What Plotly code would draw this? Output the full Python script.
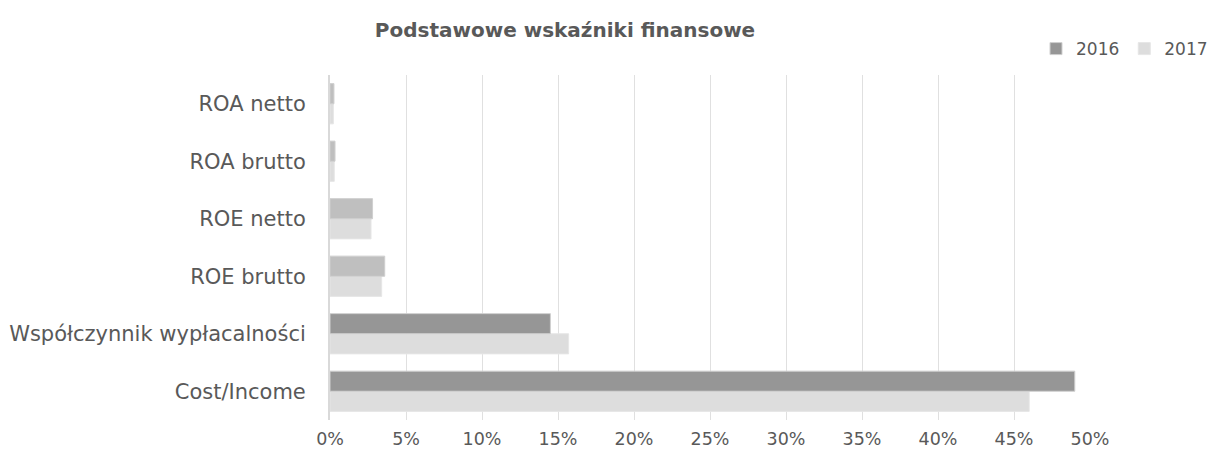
import plotly.graph_objects as go

categories = ["Cost/Income", "Współczynnik wypłacalności", "ROE brutto", "ROE netto", "ROA brutto", "ROA netto"]
values_2016 = [0.490, 0.145, 0.036, 0.028, 0.0033, 0.0026]
values_2017 = [0.460, 0.157, 0.034, 0.027, 0.0028, 0.0022]
colors_2016 = ["#969696", "#969696", "#BFBFBF", "#BFBFBF", "#BFBFBF", "#BFBFBF"]
color_2017 = "#DDDDDD"
tick_vals = [0, 0.05, 0.10, 0.15, 0.20, 0.25, 0.30, 0.35, 0.40, 0.45, 0.50]
tick_text = ["0%", "5%", "10%", "15%", "20%", "25%", "30%", "35%", "40%", "45%", "50%"]

fig = go.Figure()
fig.add_trace(go.Bar(
    y=categories, x=values_2017, name="2017", orientation="h",
    marker=dict(color=color_2017, line=dict(color="#E6E6E6", width=1)),
))
fig.add_trace(go.Bar(
    y=categories, x=values_2016, name="2016", orientation="h",
    marker=dict(color=colors_2016, line=dict(color="#CFCFCF", width=1)),
))

font = "DejaVu Sans, Verdana, sans-serif"
fig.update_layout(
    width=1209, height=451,
    margin=dict(l=322, r=127, t=67, b=39),
    paper_bgcolor="white", plot_bgcolor="white",
    barmode="group", bargap=0.3, bargroupgap=0.0,
    font=dict(family=font, size=18, color="#595959"),
    title=dict(text="<b>Podstawowe wskaźniki finansowe</b>", x=0.4607, xanchor="center",
               y=0.951, yanchor="middle", font=dict(family=font, size=20, color="#595959")),
    legend=dict(orientation="h", xref="container", yref="container",
                x=0.9967, xanchor="right", y=0.909, yanchor="middle",
                traceorder="reversed", font=dict(size=17, color="#595959"),
                itemwidth=30, tracegroupgap=0),
    showlegend=True,
)
fig.update_xaxes(range=[0, 0.5], tickvals=tick_vals, ticktext=tick_text,
                 tickfont=dict(size=17.5),
                 showgrid=True, gridcolor="#E0E0E0", gridwidth=1, zeroline=False,
                 showline=False, ticklabelstandoff=6, automargin=False)
fig.update_yaxes(categoryorder="array", categoryarray=categories,
                 tickfont=dict(size=21),
                 showline=True, linecolor="#D9D9D9", linewidth=2, ticks="",
                 ticklabelstandoff=18, showgrid=False, automargin=False)

fig.write_html("out.html")
